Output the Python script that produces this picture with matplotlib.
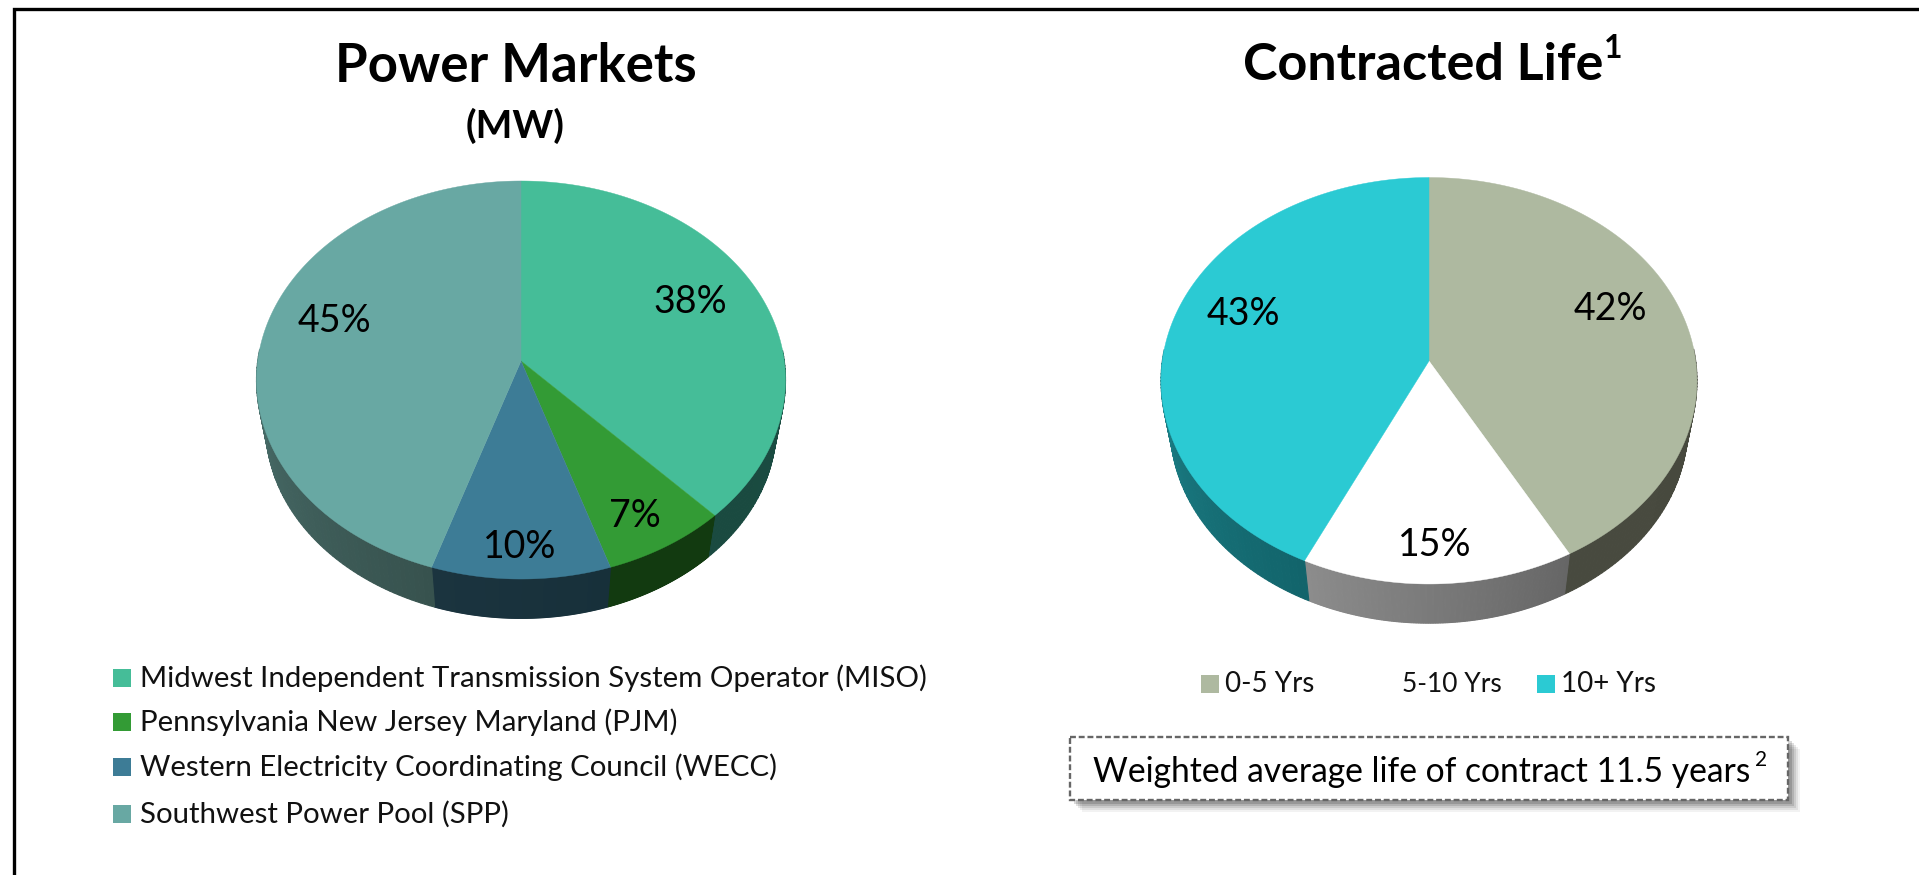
import numpy as np
import matplotlib
matplotlib.use("Agg")
import matplotlib.pyplot as plt
from matplotlib.colors import to_rgb
from matplotlib.patches import Rectangle

plt.rcParams['font.family'] = ['Lato', 'DejaVu Sans']

# data
market_labels = ["Midwest Independent Transmission System Operator (MISO)",
                 "Pennsylvania New Jersey Maryland (PJM)",
                 "Western Electricity Coordinating Council (WECC)",
                 "Southwest Power Pool (SPP)"]
market_values = [38, 7, 10, 45]
life_labels = ["0-5 Yrs", "5-10 Yrs", "10+ Yrs"]
life_values = [42, 15, 43]

# colours: top face, then wall colour at start and end of the slice
market_colors = ["#45BD98", "#339B35", "#3D7C96", "#68A8A3"]
market_walls = [("#1B4F44", "#1A4A40"), ("#123A10", "#123A10"),
                ("#17303A", "#1B343F"), ("#37524E", "#5F8F8C")]
life_colors = ["#AEB9A0", "#FFFFFF", "#2BCAD3"]
life_walls = [("#45473C", "#484A3F"), ("#666666", "#8C8C8C"), ("#12646B", "#2AA6AD")]


def project(theta, cx, cy, rx, ry, k, scale=1.0, drop=0.0):
    # circle seen in perspective, apex at (cx, cy)
    u, v = np.sin(theta), -np.cos(theta)
    w = 1 + k * v
    return cx + scale * rx * u / w, cy + drop + scale * ry * v / w


def draw_pie(ax, values, colors, walls, cx, cy, rx, ry, k):
    bounds = np.cumsum([0] + values) / sum(values) * 2 * np.pi
    scale, drop = 0.965, 47
    # walls first, only the front half can be seen
    for i in range(len(values)):
        th = np.linspace(bounds[i], bounds[i + 1], 160)
        c0, c1 = np.array(to_rgb(walls[i][0])), np.array(to_rgb(walls[i][1]))
        for j in range(len(th) - 1):
            t = th[j:j + 2]
            if np.cos(t[0]) > 0.05 and np.cos(t[1]) > 0.05:
                continue
            x1, y1 = project(t, cx, cy, rx, ry, k)
            x2, y2 = project(t[::-1], cx, cy, rx, ry, k, scale, drop)
            f = j / (len(th) - 2)
            col = c0 + (c1 - c0) * f
            ax.fill(np.r_[x1, x2], np.r_[y1, y2], color=col, lw=0.8, zorder=2)
    for i in range(len(values)):
        th = np.linspace(bounds[i], bounds[i + 1], 200)
        x, y = project(th, cx, cy, rx, ry, k)
        ax.fill(np.r_[cx, x], np.r_[cy, y], color=colors[i], lw=0.3, zorder=3)


fig = plt.figure(figsize=(19.19, 8.75), dpi=100)
ax = fig.add_axes([0, 0, 1, 1])
ax.set_xlim(0, 1919)
ax.set_ylim(875, 0)
ax.axis("off")

# frame, only top and left are in the picture
ax.plot([14, 14, 1919], [875, 9, 9], color="black", lw=2.4, solid_joinstyle="miter")

draw_pie(ax, market_values, market_colors, market_walls, 521, 361, 263.3, 197.2, -0.0955)
draw_pie(ax, life_values, life_colors, life_walls, 1429, 361, 266.7, 201.3, -0.0972)

# percent labels
market_xy = [(690, 302), (635, 516), (520, 547), (334, 321)]
life_xy = [(1610, 309), (1435, 545), (1243, 314)]
for v, (x, y) in zip(market_values + life_values, market_xy + life_xy):
    ax.text(x, y, f"{v}%", fontsize=27, ha="center", va="center", color="black", zorder=5)

# titles
ax.text(516, 67, "Power Markets", fontsize=38, fontweight="bold", ha="center", va="center")
ax.text(515, 126, "(MW)", fontsize=28, fontweight="bold", ha="center", va="center")
ax.text(1423, 66, "Contracted Life", fontsize=37.5, fontweight="bold", ha="center", va="center")
ax.text(1613, 48, "1", fontsize=23, fontweight="bold", ha="center", va="center")

# legend left
legend_y = [678, 722, 767, 814]
for lab, col, y in zip(market_labels, market_colors, legend_y):
    ax.add_patch(Rectangle((113, y - 9), 18, 18, color=col, lw=0))
    ax.text(140, y, lab, fontsize=21.2, ha="left", va="center", color="#111111")

# legend right
life_x = [1201, 1378, 1537]
for lab, col, x in zip(life_labels, life_colors, life_x):
    ax.add_patch(Rectangle((x, 675), 18, 18, color=col, lw=0))
    size = 19 if lab == "5-10 Yrs" else 20
    ax.text(x + 24, 684, lab, fontsize=size, ha="left", va="center", color="#111111")

# note box with soft shadow
for off, a in zip([12, 10, 8, 6, 4], [0.05, 0.07, 0.09, 0.12, 0.15]):
    ax.add_patch(Rectangle((1070 + off, 737 + off), 718, 63, color="black", alpha=a, lw=0, zorder=6))
ax.add_patch(Rectangle((1070, 737), 718, 63, facecolor="white", edgecolor="#666666",
                       lw=1.7, ls=(0, (2.5, 1.2)), zorder=7))
ax.text(1093, 772, "Weighted average life of contract 11.5 years", fontsize=24.2,
        ha="left", va="center", color="black", zorder=8)
ax.text(1761, 760, "2", fontsize=15, ha="center", va="center", color="black", zorder=8)

fig.savefig("out.png", dpi=100, facecolor="white")
